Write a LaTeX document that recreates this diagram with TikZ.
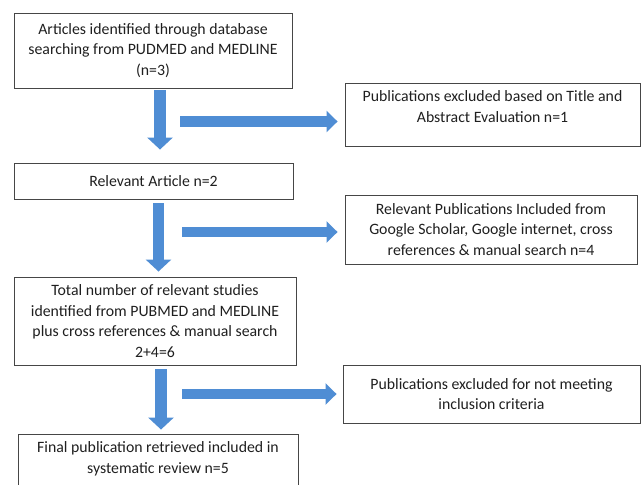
\documentclass[tikz,border=0pt]{standalone}
\usepackage{fontspec}
\setmainfont{Carlito}
\usetikzlibrary{arrows.meta}
\definecolor{flowblue}{RGB}{79,141,212}
\definecolor{boxline}{RGB}{70,70,70}

\begin{document}
\begin{tikzpicture}[x=1pt, y=-1pt,
  box/.style={draw=boxline, line width=0.9pt, align=center, inner sep=2pt,
    font=\fontsize{15.8}{20.5}\selectfont, text=black!88},
  down/.style={draw=flowblue, line width=11.5pt, -{Triangle[width=25pt,length=12pt]}},
  side/.style={draw=flowblue, line width=10.5pt, -{Triangle[width=21pt,length=11pt]}}]

\useasboundingbox (0,0) rectangle (644,484);

\node[box, minimum width=278, minimum height=75] (art) at (153,50.5)
  {Articles identified through database\\searching from PUDMED and MEDLINE\\(n=3)};
\node[box, minimum width=295, minimum height=63] (excl1) at (492.5,114.5)
  {Publications excluded based on Title and\\Abstract Evaluation n=1\\[-5pt]\mbox{}};
\node[box, minimum width=279, minimum height=36] (rel) at (153.5,181)
  {Relevant Article n=2};
\node[box, minimum width=292, minimum height=69] (incl) at (491,229.5)
  {Relevant Publications Included from\\Google Scholar, Google internet, cross\\references \& manual search n=4};
\node[box, minimum width=282, minimum height=88] (total) at (155,321)
  {Total number of relevant studies\\identified from PUBMED and MEDLINE\\plus cross references \& manual search\\2+4=6};
\node[box, minimum width=297, minimum height=58] (excl2) at (491.5,394)
  {Publications excluded for not meeting\\inclusion criteria};
\node[box, minimum width=280, minimum height=56] (final) at (158,462)
  {Final publication retrieved included in\\systematic review n=5\\[-12pt]\mbox{}};

% down the main column
\draw[down, shorten <=2pt, shorten >=13pt] ([xshift=7]art.south) -- ([xshift=7]art.south |- rel.north);
\draw[down, shorten <=4pt, shorten >=5pt] ([xshift=5]rel.south) -- ([xshift=5]rel.south |- total.north);
\draw[down, shorten <=4pt, shorten >=4pt] ([xshift=6]total.south) -- ([xshift=6]total.south |- final.north);

% side branches
\coordinate (s1) at (180,121.5);
\coordinate (s2) at (182,232);
\coordinate (s3) at (182,394);
\draw[side, shorten >=7pt] (s1) -- (s1 -| excl1.west);
\draw[side, shorten >=7pt] (s2) -- (s2 -| incl.west);
\draw[side, shorten >=6pt] (s3) -- (s3 -| excl2.west);

\end{tikzpicture}
\end{document}
